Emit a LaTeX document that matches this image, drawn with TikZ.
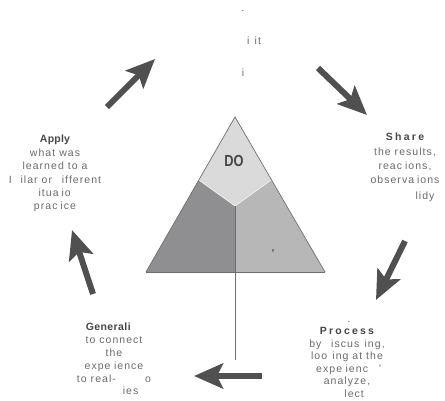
\documentclass[tikz,border=0pt]{standalone}
\usepackage{fontspec}
\setmainfont{Liberation Sans}
\newfontfamily\bodyfnt[LetterSpace=10]{Liberation Sans}
\newfontfamily\titlefnt{Liberation Sans}
\usetikzlibrary{arrows.meta}
\definecolor{txt}{HTML}{6A6A6A}
\definecolor{ttl}{HTML}{464646}
\definecolor{arr}{HTML}{505050}
\definecolor{topc}{HTML}{DADADA}
\definecolor{leftc}{HTML}{8F8F91}
\definecolor{rightc}{HTML}{B7B7B7}
\definecolor{edgec}{HTML}{6E6E6E}
\begin{document}
\begin{tikzpicture}[x=1pt,y=-1pt,
  bigarrow/.style={draw=arr, line width=6pt, -{Stealth[length=29pt,width=25pt,inset=6pt]}},
  block/.style={anchor=north, align=center, inner sep=0pt, text=txt,
    font=\bodyfnt\fontsize{10.5}{13.4}\selectfont},
  linetxt/.style={inner sep=0pt, text=txt, font=\bodyfnt\fontsize{10.5}{13.4}\selectfont},
  marktxt/.style={inner sep=0pt, text=ttl, font=\fontsize{9.5}{11}\selectfont}
]
\useasboundingbox (0,0) rectangle (445,400);
% triangle geometry
\coordinate (A) at (235,117);
\coordinate (BL) at (146,272);
\coordinate (BR) at (325,272);
\coordinate (C) at (235,206);
\coordinate (PL) at (198.8,180);
\coordinate (PR) at (271.2,180);
\coordinate (CB) at (235,272);
\coordinate (LE) at (235,360);
\fill[leftc] (PL) -- (C) -- (CB) -- (BL) -- cycle;
\fill[rightc] (PR) -- (C) -- (CB) -- (BR) -- cycle;
\fill[topc] (A) -- (PR) -- (C) -- (PL) -- cycle;
\draw[white!70!topc, line width=0.6pt] (PL) -- (C) -- (PR);
\draw[edgec, line width=0.7pt, line join=miter] (BL) -- (A) -- (BR);
\draw[edgec, line width=1pt] (BL) -- (BR);
\draw[edgec, line width=0.8pt] (C) -- (LE);
\node[inner sep=0pt, text=ttl] (do) at (234,161)
  {\scalebox{0.8}[1]{\fontsize{16}{16}\selectfont\bfseries DO}};
\node[marktxt, font=\fontsize{10}{10}\selectfont\bfseries] (tick) at (273,253) {\textquotesingle};
% arrows
\coordinate (a1s) at (107,107); \coordinate (a1e) at (155,59);
\coordinate (a2s) at (318,68);  \coordinate (a2e) at (367,115);
\coordinate (a3s) at (405,241); \coordinate (a3e) at (376,300);
\coordinate (a4s) at (262,376); \coordinate (a4e) at (194,376);
\coordinate (a5s) at (93,294);  \coordinate (a5e) at (72,230);
\draw[bigarrow] (a1s) -- (a1e);
\draw[bigarrow] (a2s) -- (a2e);
\draw[bigarrow] (a3s) -- (a3e);
\draw[bigarrow] (a4s) -- (a4e);
\draw[bigarrow] (a5s) -- (a5e);
% top texts
\node[marktxt] (t0) at (243,11) {.};
\node[linetxt] (t1) at (254,41) {i\phantom{v}it};
\node[linetxt] (t2) at (243,73) {i};
% Apply
\node[block] (apply) at (55,135) {{\titlefnt\bfseries\addfontfeature{LetterSpace=2}\color{ttl}Apply}\\
  what was\\ learned to a\\ I\phantom{m}ilar or \phantom{d}ifferent\\
  \phantom{s}itua\phantom{t}io\phantom{n}\\ prac\phantom{t}ice};
% Share
\node[block, font=\bodyfnt\fontsize{10.5}{14.2}\selectfont] (share) at (405,133)
  {{\titlefnt\bfseries\addfontfeature{LetterSpace=22}\color{ttl}Share}\\
  the results,\\ reac\phantom{t}ions,\\ observa\phantom{t}ions};
\node[linetxt] (share5) at (425,197) {lidy};
% Process
\node[marktxt] (p0) at (349,322) {.};
\node[block, font=\bodyfnt\fontsize{10.5}{12.6}\selectfont] (process) at (347,327)
  {{\titlefnt\bfseries\addfontfeature{LetterSpace=21}\color{ttl}Process}\\
  by \phantom{d}iscus\phantom{s}ing,\\ loo\phantom{k}ing at the\\
  expe\phantom{r}ienc\phantom{e;}\\ analyze,\\ \phantom{ref}lect};
\node[marktxt] (p1) at (380,368) {\textquotesingle};
% Generalize
\node[block, font=\bodyfnt\fontsize{10.5}{12.8}\selectfont] (gen) at (114,323)
  {{\titlefnt\bfseries\addfontfeature{LetterSpace=4}\color{ttl}Generali\phantom{ze}}\\
  to connect\\ the\\ expe\phantom{r}ience\\ to real-\phantom{world}o\\
  \phantom{activit}ies};
\end{tikzpicture}
\end{document}
